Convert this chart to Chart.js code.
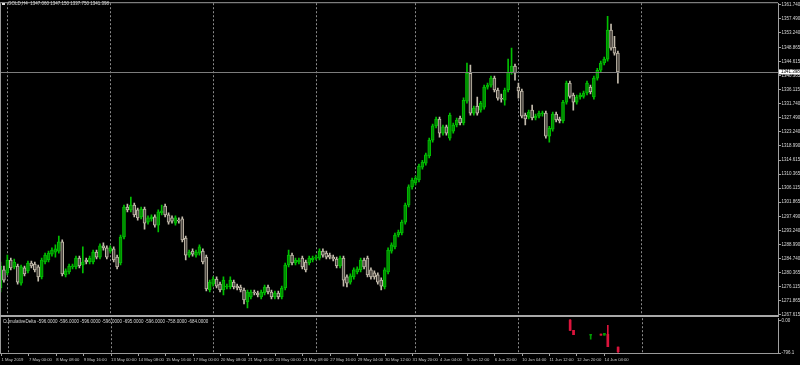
<!DOCTYPE html>
<html>
<head>
<meta charset="utf-8">
<script src="https://cdn.jsdelivr.net/npm/chart.js@4.4.1/dist/chart.umd.min.js"></script>
<style>
html, body { margin: 0; padding: 0; background: #000; width: 800px; height: 365px; overflow: hidden; }
#wrap { position: relative; width: 800px; height: 365px; }
canvas { position: absolute; left: 0; }
#main { top: 0; }
#sub { top: 315px; }
.lbl { position: absolute; color: #d8d8d8; font-family: "Liberation Sans", Arial, sans-serif; font-size: 4.5px; line-height: 1; white-space: pre; }
#icon { position: absolute; left: 2px; top: 3px; width: 3px; height: 2px; background: #ddd; }
</style>
</head>
<body>
<div id="wrap">
  <canvas id="main" width="800" height="320"></canvas>
  <canvas id="sub" width="800" height="50"></canvas>
  <div id="icon"></div>
  <div class="lbl" style="left:8px;top:2px">GOLD,H4  1347.060 1347.150 1337.750 1341.398</div>
  <div class="lbl" style="left:3px;top:319.5px">CumulativeDelta -596.0000 -596.0000 -596.0000 -596.0000 -695.0000 -596.0000 -758.0000 -684.0000</div>
</div>
<script>
// GOLD H4 candles, one entry per bar, oldest first
const open = [1275.8,1281.3,1280.4,1284.3,1282.2,1282.5,1277.3,1281.9,1281.0,1283.4,1283.1,1282.2,1279.2,1283.7,1284.3,1286.1,1286.7,1287.0,1289.8,1279.8,
  1280.7,1282.2,1282.2,1284.9,1282.8,1284.3,1283.7,1283.7,1286.7,1285.2,1288.6,1288.0,1287.0,1287.7,1285.2,1283.4,1291.3,1300.4,1299.5,1301.0,
  1299.5,1297.4,1299.8,1295.8,1296.8,1297.4,1294.9,1298.6,1300.7,1298.0,1297.1,1295.5,1296.4,1296.8,1291.0,1285.8,1287.0,1285.8,1286.4,1287.0,
  1285.2,1275.2,1277.0,1278.5,1277.0,1275.2,1276.1,1276.1,1277.6,1276.4,1276.1,1275.2,1271.6,1273.1,1274.6,1274.3,1273.1,1274.3,1276.1,1274.6,
  1273.1,1274.3,1273.1,1275.8,1282.8,1285.8,1283.4,1283.7,1284.9,1283.7,1283.4,1284.3,1284.9,1284.9,1287.0,1286.4,1285.8,1285.2,1284.6,1282.5,
  1284.9,1279.2,1277.6,1279.2,1280.7,1281.3,1284.3,1284.9,1281.3,1280.4,1279.8,1278.2,1276.1,1280.7,1287.0,1288.3,1291.9,1292.5,1295.8,1301.0,
  1306.5,1307.7,1308.6,1312.5,1313.7,1315.9,1320.7,1325.0,1327.1,1322.8,1324.7,1321.3,1323.4,1325.3,1327.4,1325.9,1332.5,1341.0,1328.9,1331.0,
  1329.8,1330.7,1336.8,1337.4,1339.5,1335.9,1333.4,1332.8,1335.9,1341.3,1343.2,1336.8,1335.6,1328.3,1327.7,1329.8,1327.4,1328.0,1328.7,1328.9,
  1321.9,1324.0,1328.6,1327.1,1326.5,1332.2,1338.0,1334.4,1332.2,1333.8,1334.0,1335.0,1336.8,1333.8,1339.5,1341.9,1344.1,1345.3,1354.1,1348.9,
  1347.1];
const high = [1283.7,1282.5,1285.8,1284.9,1284.6,1283.1,1282.8,1282.5,1284.0,1284.0,1283.7,1282.8,1284.9,1286.4,1287.0,1288.0,1288.9,1291.6,1290.4,1281.6,
  1283.1,1283.1,1285.5,1285.5,1288.3,1284.9,1285.5,1287.3,1287.3,1289.2,1289.5,1288.6,1288.6,1288.3,1285.8,1291.9,1301.0,1301.3,1303.4,1301.6,
  1300.1,1300.4,1300.4,1297.7,1298.0,1298.0,1299.5,1301.0,1301.3,1298.6,1297.7,1297.7,1297.1,1297.4,1291.6,1287.3,1287.7,1287.3,1288.9,1287.7,
  1285.8,1278.2,1279.2,1279.2,1277.6,1279.2,1277.0,1279.2,1278.2,1277.0,1276.7,1275.8,1275.2,1275.2,1275.2,1274.9,1275.2,1276.7,1276.7,1275.2,
  1274.9,1274.9,1276.4,1283.4,1287.3,1286.4,1284.9,1284.9,1285.5,1284.3,1285.5,1285.5,1285.8,1287.7,1287.7,1287.0,1286.4,1285.8,1285.2,1285.5,
  1285.5,1279.8,1280.1,1281.9,1282.2,1284.9,1284.9,1285.5,1281.9,1281.0,1280.4,1278.9,1281.9,1288.0,1289.5,1292.5,1293.4,1296.4,1301.6,1307.1,
  1309.2,1309.8,1313.4,1314.6,1316.8,1321.3,1325.6,1327.7,1327.7,1325.3,1325.3,1328.9,1325.9,1327.4,1328.0,1333.5,1344.1,1343.5,1331.0,1333.8,
  1332.5,1337.4,1338.0,1340.1,1340.1,1336.5,1334.7,1336.5,1345.3,1348.6,1343.8,1338.0,1336.2,1328.9,1329.8,1331.3,1328.6,1329.5,1329.5,1329.5,
  1324.9,1329.2,1329.2,1327.7,1332.8,1338.6,1338.6,1335.0,1334.4,1335.0,1335.6,1338.6,1337.4,1340.1,1342.5,1344.7,1345.9,1358.3,1355.9,1352.2,
  1347.7];
const low = [1274.6,1277.6,1279.8,1281.3,1281.6,1277.0,1276.7,1279.5,1280.4,1281.9,1280.7,1277.9,1278.6,1283.1,1283.7,1285.5,1285.2,1286.4,1279.5,1279.2,
  1280.1,1281.6,1281.6,1281.9,1280.4,1283.1,1283.1,1283.1,1284.6,1284.6,1287.3,1284.6,1286.4,1283.7,1281.6,1282.8,1290.7,1298.9,1298.9,1297.4,
  1296.4,1296.8,1293.7,1295.2,1296.1,1294.3,1292.8,1298.0,1297.4,1295.2,1295.5,1294.9,1295.5,1289.8,1284.3,1285.2,1285.5,1285.2,1285.8,1283.1,
  1274.9,1274.6,1276.4,1275.8,1274.6,1273.7,1275.5,1275.5,1275.5,1275.2,1274.6,1271.0,1269.8,1272.5,1273.7,1273.1,1272.5,1273.7,1274.0,1272.5,
  1272.5,1272.5,1272.5,1275.2,1282.2,1282.8,1282.8,1283.1,1281.6,1280.7,1282.8,1283.7,1284.3,1284.3,1285.2,1284.6,1284.6,1284.0,1281.9,1281.9,
  1276.4,1276.1,1277.0,1278.5,1280.1,1280.7,1281.6,1279.2,1278.5,1278.5,1277.0,1275.2,1275.5,1280.1,1286.4,1287.7,1291.3,1291.9,1295.2,1300.4,
  1305.8,1307.1,1308.0,1311.9,1313.1,1315.3,1320.1,1324.4,1321.6,1322.2,1322.2,1320.7,1322.8,1324.7,1325.3,1325.3,1331.9,1328.3,1328.3,1328.3,
  1329.2,1330.1,1336.2,1336.8,1335.3,1332.8,1332.2,1331.3,1335.3,1340.7,1338.9,1333.4,1327.4,1325.3,1327.1,1326.8,1326.8,1327.4,1328.0,1321.3,
  1320.1,1323.4,1326.2,1325.9,1325.9,1331.6,1333.4,1329.8,1331.6,1333.1,1333.4,1334.4,1334.7,1333.1,1338.9,1341.3,1343.5,1344.7,1348.0,1346.5,
  1338.0];
const close = [1282.5,1278.2,1284.3,1281.9,1283.7,1277.6,1282.2,1280.1,1283.4,1282.5,1281.3,1279.2,1284.3,1285.8,1286.4,1287.3,1287.7,1289.8,1280.1,1281.0,
  1282.5,1282.5,1284.9,1282.5,1283.7,1283.7,1284.9,1286.7,1285.2,1288.6,1288.0,1285.2,1288.0,1284.3,1282.2,1291.3,1300.4,1299.5,1301.0,1298.0,
  1297.1,1299.8,1295.5,1297.1,1297.4,1294.9,1298.9,1299.2,1298.0,1295.8,1296.1,1297.1,1296.1,1290.4,1285.8,1286.7,1286.1,1286.7,1288.3,1283.7,
  1275.5,1277.6,1278.5,1276.4,1275.2,1278.2,1276.4,1278.2,1276.1,1275.8,1275.2,1272.2,1274.6,1274.6,1274.3,1273.7,1274.6,1276.1,1274.6,1273.1,
  1274.3,1273.1,1275.8,1282.8,1285.8,1283.4,1284.3,1284.3,1282.2,1281.3,1284.9,1284.9,1285.2,1287.0,1285.8,1285.2,1285.2,1284.6,1282.5,1284.9,
  1278.2,1277.3,1279.5,1281.3,1281.6,1284.3,1282.2,1279.8,1279.2,1279.2,1277.6,1276.4,1281.3,1287.3,1288.9,1291.9,1292.8,1295.8,1301.0,1306.5,
  1308.6,1309.2,1312.8,1314.0,1316.2,1320.7,1325.0,1327.1,1322.8,1324.7,1322.8,1328.3,1325.3,1326.8,1325.9,1332.8,1341.0,1328.9,1330.4,1328.9,
  1331.9,1336.8,1337.4,1339.5,1335.9,1333.4,1333.1,1335.9,1341.3,1343.2,1341.0,1335.6,1328.0,1327.1,1329.2,1327.4,1328.0,1328.9,1328.9,1321.9,
  1324.3,1328.6,1326.8,1326.5,1332.2,1338.0,1334.0,1332.2,1333.8,1334.4,1335.0,1338.0,1335.3,1339.5,1341.9,1344.1,1345.3,1354.1,1348.6,1347.1,
  1341.4];

// time axis
const timeLabels = ['1 May 2019','7 May 00:00','8 May 08:00','9 May 16:00','13 May 00:00','14 May 08:00','15 May 16:00','17 May 00:00',
  '20 May 08:00','21 May 16:00','23 May 00:00','24 May 08:00','27 May 16:00','29 May 04:00','30 May 12:00','31 May 20:00',
  '4 Jun 04:00','5 Jun 12:00','6 Jun 20:00','10 Jun 04:00','11 Jun 12:00','12 Jun 20:00','14 Jun 04:00'];
const timeLabelBars = [0,8,16,24,32,40,48,56,64,72,80,88,96,104,112,120,128,136,144,152,160,168,176];
const weekStartBars = [2,32,62,92,121,151,187];

// price axis
const priceTicks = [1361.740,1357.490,1353.240,1348.865,1344.615,1340.365,1336.115,1331.740,1327.490,1323.240,1318.990,1314.615,
  1310.365,1306.115,1301.865,1297.490,1293.240,1288.990,1284.740,1280.365,1276.115,1271.865,1267.615];
const lastPrice = 1341.398;

// CumulativeDelta sub window
const deltaBars  = [166, 167, 172, 175, 176, 177, 180];
const deltaOpen  = [10, -241, -345, -335, -362, -338, -651];
const deltaHigh  = [24, -241, -338, -335, -314, -121, -651];
const deltaLow   = [-241, -345, -458, -340, -362, -644, -780];
const deltaClose = [-241, -345, -338, -340, -314, -644, -765];
const deltaTicks = [0, -796.1];
const deltaTickLabels = ['0.00', '-796.1'];

const X_MIN = -0.146, X_MAX = 226.68;
const FONT = { family: 'Liberation Sans', size: 4.5 };
const XFONT = { family: 'Liberation Sans', size: 4.2 };
const UP_FILL = '#008a00', UP_LINE = '#00c000', DN_FILL = '#46413b', DN_LINE = '#c4bcad';
const AXIS = '#a0a0a0', GRID = '#8a8a8a';

const bars = open.map((_, i) => i);
const up = bars.map(i => close[i] >= open[i]);

const mainFrame = {
  id: 'mainFrame',
  afterDatasetsDraw(chart) {
    const { ctx, chartArea: a, scales: { y } } = chart;
    const py = Math.round(y.getPixelForValue(lastPrice)) + 0.5;
    ctx.save();
    ctx.lineWidth = 1;
    ctx.strokeStyle = '#7c7c7c';
    ctx.beginPath();
    ctx.moveTo(a.left, py);
    ctx.lineTo(a.right, py);
    ctx.stroke();
    ctx.strokeStyle = '#9a9a9a';
    ctx.beginPath();
    ctx.moveTo(a.left, a.top - 0.5);
    ctx.lineTo(a.right, a.top - 0.5);
    ctx.moveTo(a.left + 0.5, a.top);
    ctx.lineTo(a.left + 0.5, a.bottom);
    ctx.stroke();
    ctx.restore();
  },
  afterDraw(chart) {
    const { ctx, chartArea: a, scales: { y } } = chart;
    const py = y.getPixelForValue(lastPrice);
    ctx.save();
    ctx.fillStyle = '#ffffff';
    ctx.fillRect(a.right + 1, py - 2.5, 21, 5);
    ctx.fillStyle = '#000000';
    ctx.font = '4.5px "Liberation Sans"';
    ctx.textBaseline = 'middle';
    ctx.fillText(lastPrice.toFixed(3), a.right + 3, py + 0.3);
    ctx.restore();
  }
};

const subFrame = {
  id: 'subFrame',
  afterDraw(chart) {
    const { ctx, chartArea: a } = chart;
    ctx.save();
    ctx.fillStyle = '#a8a8a8';
    ctx.fillRect(0, 0, a.right, 2);
    ctx.strokeStyle = '#9a9a9a';
    ctx.lineWidth = 1;
    ctx.beginPath();
    ctx.moveTo(0.5, 2);
    ctx.lineTo(0.5, a.bottom);
    ctx.moveTo(0, Math.round(a.bottom) + 0.5);
    ctx.lineTo(a.right, Math.round(a.bottom) + 0.5);
    ctx.stroke();
    ctx.restore();
  }
};

new Chart(document.getElementById('main'), {
  type: 'bar',
  data: {
    datasets: [
      {
        data: bars.map(i => ({ x: i, y: [low[i], high[i]] })),
        backgroundColor: bars.map(i => up[i] ? UP_LINE : DN_LINE),
        barThickness: 1, grouped: false, order: 2, minBarLength: 1
      },
      {
        data: bars.map(i => ({ x: i, y: [open[i], close[i]] })),
        backgroundColor: bars.map(i => up[i] ? UP_FILL : DN_FILL),
        borderColor: bars.map(i => up[i] ? UP_LINE : DN_LINE),
        borderWidth: 1, borderSkipped: false,
        barThickness: 3, grouped: false, order: 1, minBarLength: 1
      }
    ]
  },
  options: {
    responsive: false,
    animation: false,
    events: [],
    layout: { padding: { top: 3, bottom: 4, left: 0, right: 0 } },
    plugins: { legend: { display: false }, tooltip: { enabled: false } },
    scales: {
      x: {
        type: 'linear', min: X_MIN, max: X_MAX, offset: false,
        afterBuildTicks: s => { s.ticks = weekStartBars.map(v => ({ value: v })); },
        ticks: { display: false },
        grid: { color: GRID, drawTicks: false, offset: false },
        border: { display: false, dash: [2, 2] }
      },
      y: {
        position: 'right', min: 1267.31, max: 1362.26, beginAtZero: false,
        afterBuildTicks: s => { s.ticks = priceTicks.map(v => ({ value: v })); },
        afterFit: s => { s.width = 22; },
        ticks: { color: '#d8d8d8', font: FONT, padding: 0.5, autoSkip: false, callback: v => v.toFixed(3) },
        grid: { drawOnChartArea: false, color: AXIS, tickLength: 3 },
        border: { color: AXIS }
      }
    }
  },
  plugins: [mainFrame]
});

const xTickBars = [...new Set([...timeLabelBars, ...weekStartBars])].sort((a, b) => a - b);
const dIdx = deltaBars.map((_, k) => k);
const dUp = dIdx.map(k => deltaClose[k] > deltaOpen[k]);

new Chart(document.getElementById('sub'), {
  type: 'bar',
  data: {
    datasets: [
      {
        data: dIdx.map(k => ({ x: deltaBars[k], y: [deltaLow[k], deltaHigh[k]] })),
        backgroundColor: dIdx.map(k => dUp[k] ? '#009a00' : '#dc143c'),
        barThickness: 1, grouped: false, order: 2, minBarLength: 1
      },
      {
        data: dIdx.map(k => ({ x: deltaBars[k], y: [deltaOpen[k], deltaClose[k]] })),
        backgroundColor: dIdx.map(k => dUp[k] ? '#009a00' : '#dc143c'),
        barThickness: 2, grouped: false, order: 1, minBarLength: 1
      }
    ]
  },
  options: {
    responsive: false,
    animation: false,
    events: [],
    layout: { padding: { top: 2.7, bottom: 0, left: 0, right: 0 } },
    plugins: { legend: { display: false }, tooltip: { enabled: false } },
    scales: {
      x: {
        type: 'linear', min: X_MIN, max: X_MAX, offset: false,
        afterBuildTicks: s => { s.ticks = xTickBars.map(v => ({ value: v })); },
        afterFit: s => { s.height = 12; },
        ticks: {
          color: '#c8c8c8', font: XFONT, padding: 1.5, align: 'start', autoSkip: false,
          maxRotation: 0, minRotation: 0,
          callback: v => { const k = timeLabelBars.indexOf(v); return k < 0 ? '' : timeLabels[k]; }
        },
        grid: {
          offset: false, tickLength: 3,
          color: c => weekStartBars.includes(c.tick && c.tick.value) ? GRID : 'rgba(0,0,0,0)',
          tickColor: c => timeLabelBars.includes(c.tick && c.tick.value) ? AXIS : 'rgba(0,0,0,0)'
        },
        border: { display: false, dash: [2, 2] }
      },
      y: {
        position: 'right', min: -796.1, max: 55, beginAtZero: false,
        afterBuildTicks: s => { s.ticks = deltaTicks.map(v => ({ value: v })); },
        afterFit: s => { s.width = 22; },
        ticks: { color: '#d8d8d8', font: FONT, padding: 0.5, autoSkip: false, callback: (v, i) => deltaTickLabels[i] },
        grid: { drawOnChartArea: false, color: AXIS, tickLength: 3 },
        border: { color: AXIS }
      }
    }
  },
  plugins: [subFrame]
});
</script>
</body>
</html>
